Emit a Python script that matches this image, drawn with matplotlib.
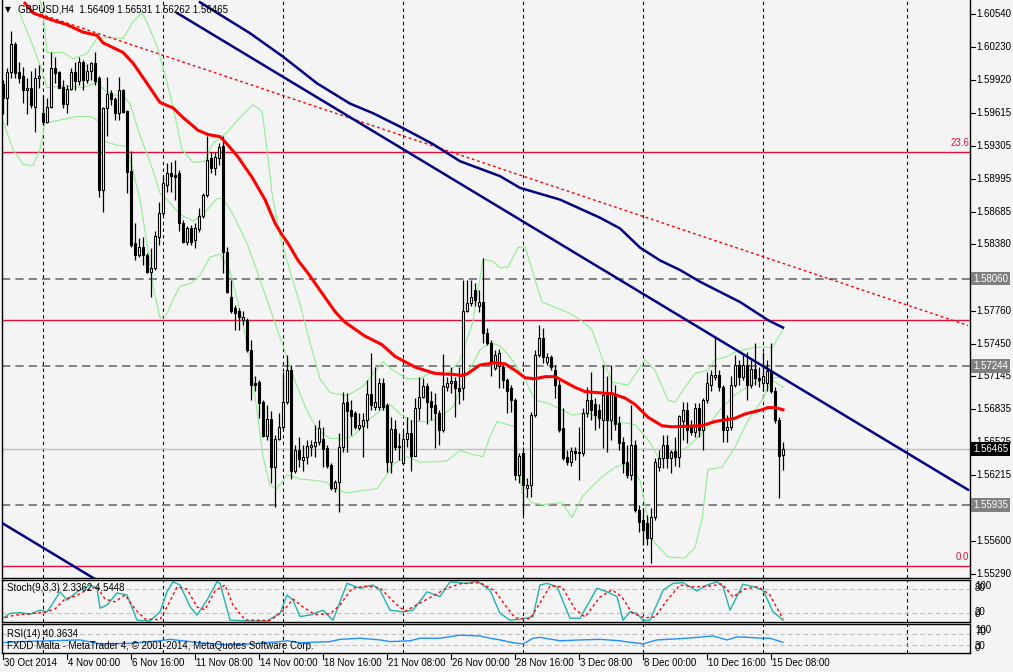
import matplotlib.pyplot as plt

# GBPUSD H4 candles, 30 Oct 2014 .. 15 Dec 2014 (one entry per bar)
opens = [1.5988, 1.5975, 1.6000, 1.6026, 1.6000, 1.5996, 1.5983, 1.5985, 1.5967, 1.5994,
         1.5961, 1.5953, 1.5967, 1.6003, 1.6000, 1.5986, 1.5970, 1.5984, 1.6000, 1.5991,
         1.6009, 1.5992, 1.6001, 1.6008, 1.5994, 1.5889, 1.5966, 1.5980, 1.5974, 1.5961,
         1.5983, 1.5963, 1.5907, 1.5839, 1.5828, 1.5836, 1.5828, 1.5812, 1.5816, 1.5845,
         1.5867, 1.5894, 1.5905, 1.5903, 1.5905, 1.5858, 1.5840, 1.5853, 1.5842, 1.5852,
         1.5865, 1.5884, 1.5919, 1.5910, 1.5919, 1.5930, 1.5831, 1.5789, 1.5778, 1.5776,
         1.5767, 1.5767, 1.5739, 1.5708, 1.5709, 1.5690, 1.5658, 1.5674, 1.5629, 1.5656,
         1.5667, 1.5690, 1.5720, 1.5626, 1.5645, 1.5636, 1.5639, 1.5648, 1.5649, 1.5653,
         1.5656, 1.5647, 1.5631, 1.5610, 1.5615, 1.5648, 1.5690, 1.5683, 1.5680, 1.5666,
         1.5668, 1.5673, 1.5698, 1.5686, 1.5686, 1.5708, 1.5687, 1.5634, 1.5665, 1.5649,
         1.5633, 1.5656, 1.5661, 1.5640, 1.5685, 1.5695, 1.5705, 1.5691, 1.5687, 1.5680,
         1.5664, 1.5704, 1.5708, 1.5710, 1.5703, 1.5703, 1.5776, 1.5783, 1.5795, 1.5780,
         1.5784, 1.5755, 1.5746, 1.5722, 1.5724, 1.5723, 1.5711, 1.5703, 1.5692, 1.5622,
         1.5642, 1.5610, 1.5612, 1.5678, 1.5734, 1.5750, 1.5728, 1.5732, 1.5720, 1.5706,
         1.5666, 1.5639, 1.5634, 1.5644, 1.5642, 1.5642, 1.5680, 1.5692, 1.5688, 1.5683,
         1.5673, 1.5697, 1.5673, 1.5697, 1.5671, 1.5653, 1.5634, 1.5622, 1.5650, 1.5589,
         1.5580, 1.5577, 1.5563, 1.5582, 1.5629, 1.5638, 1.5650, 1.5638, 1.5644, 1.5639,
         1.5672, 1.5683, 1.5667, 1.5662, 1.5685, 1.5664, 1.5692, 1.5706, 1.5714, 1.5716,
         1.5704, 1.5664, 1.5667, 1.5706, 1.5725, 1.5714, 1.5725, 1.5706, 1.5721, 1.5713,
         1.5708, 1.5708, 1.5719, 1.5701, 1.5673, 1.56409]
highs = [1.5992, 1.6003, 1.6038, 1.6028, 1.6009, 1.6004, 1.5994, 1.6001, 1.6003, 1.6006,
         1.5978, 1.5975, 1.6018, 1.6014, 1.6001, 1.5992, 1.5987, 1.6003, 1.6009, 1.6014,
         1.6011, 1.6007, 1.6009, 1.6018, 1.5996, 1.5967, 1.5995, 1.5983, 1.5976, 1.5995,
         1.5984, 1.5964, 1.5926, 1.5858, 1.5844, 1.5845, 1.5830, 1.5835, 1.5851, 1.5878,
         1.5903, 1.5914, 1.5915, 1.5917, 1.5908, 1.5861, 1.5855, 1.5856, 1.5858, 1.5872,
         1.5886, 1.5940, 1.5925, 1.5925, 1.5933, 1.5940, 1.5836, 1.5805, 1.5781, 1.5778,
         1.5776, 1.5769, 1.5748, 1.5715, 1.5711, 1.5692, 1.5687, 1.5682, 1.5659, 1.5680,
         1.5718, 1.5734, 1.5725, 1.5650, 1.5657, 1.5650, 1.5655, 1.5655, 1.5669, 1.5673,
         1.5667, 1.5650, 1.5633, 1.5617, 1.5661, 1.5700, 1.5699, 1.5692, 1.5682, 1.5680,
         1.5680, 1.5711, 1.5736, 1.5723, 1.5713, 1.5713, 1.5689, 1.5676, 1.5673, 1.5661,
         1.5664, 1.5676, 1.5673, 1.5694, 1.5714, 1.5713, 1.5708, 1.5701, 1.5699, 1.5683,
         1.5735, 1.5714, 1.5723, 1.5714, 1.5723, 1.5805, 1.5805, 1.5805, 1.5802, 1.5795,
         1.5825, 1.5760, 1.5748, 1.5739, 1.5740, 1.5725, 1.5713, 1.5706, 1.5694, 1.5642,
         1.5648, 1.5619, 1.5681, 1.5739, 1.5762, 1.5760, 1.5736, 1.5734, 1.5725, 1.5711,
         1.5685, 1.5645, 1.5648, 1.5648, 1.5667, 1.5685, 1.5704, 1.5718, 1.5694, 1.5688,
         1.5725, 1.5715, 1.5725, 1.5706, 1.5677, 1.5657, 1.5650, 1.5687, 1.5655, 1.5594,
         1.5591, 1.5584, 1.5591, 1.5638, 1.5645, 1.5659, 1.5659, 1.5645, 1.5657, 1.5678,
         1.5690, 1.5690, 1.5673, 1.5689, 1.5689, 1.5694, 1.5718, 1.5720, 1.5751, 1.5720,
         1.5706, 1.5678, 1.5715, 1.5734, 1.5730, 1.5736, 1.5737, 1.5730, 1.5746, 1.5723,
         1.5737, 1.5730, 1.5746, 1.5704, 1.5676, 1.56531]
lows = [1.5960, 1.5950, 1.5994, 1.5994, 1.5989, 1.5971, 1.5960, 1.5966, 1.5943, 1.5985,
        1.5950, 1.5952, 1.5966, 1.5989, 1.5985, 1.5966, 1.5961, 1.5983, 1.5983, 1.5987,
        1.5983, 1.5989, 1.5992, 1.5987, 1.5882, 1.5868, 1.5940, 1.5969, 1.5955, 1.5955,
        1.5961, 1.5886, 1.5836, 1.5823, 1.5826, 1.5819, 1.5811, 1.5789, 1.5814, 1.5837,
        1.5865, 1.5887, 1.5887, 1.5880, 1.5851, 1.5839, 1.5837, 1.5837, 1.5835, 1.5850,
        1.5863, 1.5882, 1.5905, 1.5903, 1.5912, 1.5811, 1.5792, 1.5774, 1.5758, 1.5758,
        1.5762, 1.5737, 1.5692, 1.5701, 1.5675, 1.5657, 1.5655, 1.5614, 1.5592, 1.5655,
        1.5664, 1.5688, 1.5618, 1.5624, 1.5629, 1.5626, 1.5632, 1.5640, 1.5639, 1.5650,
        1.5629, 1.5628, 1.5608, 1.5606, 1.5587, 1.5643, 1.5643, 1.5659, 1.5665, 1.5664,
        1.5639, 1.5666, 1.5683, 1.5683, 1.5683, 1.5683, 1.5625, 1.5624, 1.5645, 1.5636,
        1.5631, 1.5648, 1.5626, 1.5640, 1.5673, 1.5694, 1.5670, 1.5673, 1.5647, 1.5650,
        1.5662, 1.5701, 1.5699, 1.5676, 1.5688, 1.5692, 1.5775, 1.5780, 1.5780, 1.5775,
        1.5746, 1.5744, 1.5715, 1.5720, 1.5703, 1.5703, 1.5680, 1.5681, 1.5617, 1.5614,
        1.5584, 1.5601, 1.5601, 1.5676, 1.5732, 1.5727, 1.5725, 1.5720, 1.5694, 1.5662,
        1.5636, 1.5631, 1.5630, 1.5636, 1.5617, 1.5640, 1.5676, 1.5673, 1.5664, 1.5666,
        1.5647, 1.5643, 1.5655, 1.5664, 1.5645, 1.5624, 1.5619, 1.5617, 1.5587, 1.5568,
        1.5556, 1.5556, 1.5539, 1.5580, 1.5626, 1.5628, 1.5628, 1.5624, 1.5630, 1.5629,
        1.5655, 1.5652, 1.5659, 1.5657, 1.5657, 1.5645, 1.5689, 1.5701, 1.5711, 1.5701,
        1.5653, 1.5653, 1.5664, 1.5704, 1.5706, 1.5711, 1.5692, 1.5703, 1.5706, 1.5704,
        1.5701, 1.5701, 1.5699, 1.5671, 1.5600, 1.56262]
closes = [1.5975, 1.6000, 1.6026, 1.5999, 1.5994, 1.5983, 1.5985, 1.5969, 1.5994, 1.5996,
          1.5953, 1.5967, 1.6003, 1.5999, 1.5985, 1.5970, 1.5984, 1.6000, 1.5991, 1.6009,
          1.5992, 1.6001, 1.6008, 1.5991, 1.5889, 1.5966, 1.5979, 1.5974, 1.5961, 1.5983,
          1.5962, 1.5906, 1.5837, 1.5828, 1.5836, 1.5828, 1.5812, 1.5816, 1.5846, 1.5867,
          1.5896, 1.5905, 1.5902, 1.5901, 1.5858, 1.5840, 1.5853, 1.5840, 1.5853, 1.5865,
          1.5884, 1.5917, 1.5910, 1.5920, 1.5929, 1.5831, 1.5793, 1.5776, 1.5774, 1.5770,
          1.5770, 1.5739, 1.5706, 1.5706, 1.5689, 1.5658, 1.5674, 1.5629, 1.5656, 1.5667,
          1.5690, 1.5720, 1.5626, 1.5645, 1.5637, 1.5639, 1.5649, 1.5650, 1.5653, 1.5666,
          1.5646, 1.5630, 1.5610, 1.5615, 1.5648, 1.5689, 1.5682, 1.5677, 1.5667, 1.5669,
          1.5673, 1.5698, 1.5687, 1.5690, 1.5708, 1.5686, 1.5634, 1.5665, 1.5648, 1.5648,
          1.5656, 1.5661, 1.5640, 1.5685, 1.5695, 1.5705, 1.5690, 1.5686, 1.5680, 1.5664,
          1.5705, 1.5708, 1.5710, 1.5703, 1.5701, 1.5776, 1.5783, 1.5789, 1.5786, 1.5784,
          1.5755, 1.5746, 1.5727, 1.5734, 1.5736, 1.5711, 1.5701, 1.5692, 1.5622, 1.5640,
          1.5612, 1.5612, 1.5678, 1.5734, 1.5750, 1.5732, 1.5732, 1.5723, 1.5706, 1.5664,
          1.5638, 1.5634, 1.5644, 1.5642, 1.5643, 1.5680, 1.5692, 1.5683, 1.5678, 1.5675,
          1.5697, 1.5673, 1.5700, 1.5670, 1.5652, 1.5633, 1.5622, 1.5650, 1.5589, 1.5578,
          1.5570, 1.5563, 1.5582, 1.5634, 1.5638, 1.5650, 1.5638, 1.5643, 1.5639, 1.5677,
          1.5683, 1.5664, 1.5662, 1.5685, 1.5664, 1.5692, 1.5708, 1.5716, 1.5716, 1.5704,
          1.5664, 1.5667, 1.5706, 1.5725, 1.5714, 1.5725, 1.5706, 1.5721, 1.5713, 1.5711,
          1.5715, 1.5719, 1.5701, 1.5673, 1.5640, 1.56465]

# moving averages read at bar positions
ma_red_bar = [5.5, 7.5, 12.5, 16, 20, 23.5, 25, 30, 32.5, 36, 39.25, 42.5, 45, 48.75, 51.25,
              54.25, 56.25, 58.75, 62.25, 65.5, 68, 69.75, 71.25, 73.75, 76.25, 79.25, 83,
              85.5, 90.5, 94.75, 98, 100.5, 103, 108, 113, 114.75, 116.25, 119.25, 123,
              125.5, 128, 130.5, 133, 135.5, 138, 140.5, 143, 145.5, 148.75, 152.25, 155.5,
              158, 161.25, 164.75, 167.25, 174.75, 178, 183, 185.5, 189.75, 191.25, 193, 195]
ma_red = [1.6064, 1.6055, 1.6048, 1.6044, 1.6037, 1.6034, 1.6027, 1.6018, 1.6008, 1.5989,
          1.5971, 1.5966, 1.5957, 1.5945, 1.5941, 1.5939, 1.5931, 1.5920, 1.5901, 1.5880,
          1.5858, 1.5847, 1.5839, 1.5823, 1.5811, 1.5795, 1.5775, 1.5765, 1.5752, 1.5744,
          1.5733, 1.5728, 1.5723, 1.5717, 1.5716, 1.5715, 1.5717, 1.5725, 1.5727, 1.5726,
          1.5720, 1.5713, 1.5712, 1.5714, 1.5714, 1.5709, 1.5704, 1.5700, 1.5699, 1.5698,
          1.5694, 1.5688, 1.5676, 1.5668, 1.5667, 1.5668, 1.5672, 1.5675, 1.5679, 1.5683,
          1.5685, 1.5685, 1.5683]
ma_blue_bar = [49.25, 61.75, 70, 78.5, 86.75, 92.5, 100, 107.5, 114.25, 124.25, 129.25, 139.25,
               149.25, 154.25, 159.25, 164.25, 169.25, 174.25, 184.25, 191.25, 195]
ma_blue = [1.6065, 1.6036, 1.6014, 1.5989, 1.5970, 1.5961, 1.5947, 1.5932, 1.5916, 1.5902,
           1.5891, 1.5880, 1.5863, 1.5853, 1.5835, 1.5823, 1.5814, 1.5803, 1.5784, 1.5767,
           1.5760]

# Bollinger bands (20) read at bar positions
bb_up_bar = [8.75, 10, 11, 15, 17.5, 21, 23.5, 26.75, 30, 32.5, 34.75, 36.25, 38.5, 41, 42.5,
             44.75, 47.5, 50.5, 52.5, 56, 59.25, 62.5, 64.75, 66, 67.25, 69.25, 71.75, 74.25,
             76.75, 79.25, 81.75, 86, 90, 95, 97.5, 101, 104.25, 107.5, 111, 114.25, 117.5,
             120, 122.5, 124.25, 126.25, 128.75, 130.5, 133, 134.75, 138, 141.25, 143.75,
             147.25, 149.75, 152.25, 156.25, 160.5, 163, 166.25, 168, 170.5, 173, 176.25, 178,
             180.5, 183, 187.25, 189.75, 192.25, 195]
bb_up = [1.6077, 1.6053, 1.6018, 1.6018, 1.6012, 1.6017, 1.6031, 1.6032, 1.6031, 1.6047,
         1.6055, 1.6044, 1.6024, 1.5990, 1.5967, 1.5927, 1.5915, 1.5916, 1.5933, 1.5943,
         1.5957, 1.5969, 1.5963, 1.5927, 1.5886, 1.5846, 1.5813, 1.5782, 1.5746, 1.5712,
         1.5699, 1.5696, 1.5705, 1.5728, 1.5720, 1.5712, 1.5712, 1.5719, 1.5716, 1.5729,
         1.5766, 1.5824, 1.5822, 1.5816, 1.5817, 1.5835, 1.5836, 1.5805, 1.5784, 1.5779,
         1.5774, 1.5769, 1.5758, 1.5732, 1.5709, 1.5706, 1.5730, 1.5720, 1.5692, 1.5690,
         1.5704, 1.5717, 1.5720, 1.5730, 1.5732, 1.5737, 1.5741, 1.5742, 1.5741, 1.5758]
bb_mid_bar = [4.25, 7.5, 9.75, 11, 16, 20, 23.5, 25, 27.5, 30, 31.75, 34.25, 36, 37.5, 39.25,
              41, 44.25, 47.5, 50, 53.5, 55, 57.5, 61, 63.5, 66, 68.5, 71, 73.5, 76, 78.5,
              81.75, 85, 87.5, 91, 94.25, 96.75, 99.25, 102.5, 106, 109.25, 112.5, 116,
              119.25, 121.75, 124.25, 127.25, 130.5, 133, 136.25, 139.75, 142.25, 145.5,
              148.75, 151.25, 154.75, 158, 161.25, 164.25, 168, 171.75, 175.5, 179.25, 183,
              186.75, 190.5, 195]
bb_mid = [1.6054, 1.6024, 1.6001, 1.5985, 1.5987, 1.5985, 1.5990, 1.5984, 1.5978, 1.5978,
          1.5970, 1.5940, 1.5923, 1.5907, 1.5886, 1.5880, 1.5866, 1.5860, 1.5866, 1.5881,
          1.5881, 1.5866, 1.5839, 1.5813, 1.5786, 1.5759, 1.5732, 1.5705, 1.5682, 1.5665,
          1.5656, 1.5656, 1.5658, 1.5672, 1.5682, 1.5688, 1.5679, 1.5672, 1.5672, 1.5675,
          1.5686, 1.5716, 1.5739, 1.5746, 1.5743, 1.5730, 1.5711, 1.5692, 1.5689, 1.5683,
          1.5678, 1.5680, 1.5676, 1.5672, 1.5671, 1.5669, 1.5655, 1.5636, 1.5641, 1.5650,
          1.5664, 1.5683, 1.5697, 1.5706, 1.5713, 1.5713]
bb_low_bar = [0, 2.5, 5, 7.5, 9.25, 10.5, 13.5, 18.5, 21.75, 23.75, 25, 28.5, 31, 32.5, 34.25,
              36, 37.5, 39.25, 41, 42.5, 44.25, 46.75, 49.25, 51.75, 54.25, 56.75, 59.25,
              61.75, 63.5, 65, 66.75, 68.5, 71, 74.25, 77.5, 81, 82.5, 86, 89.25, 93.5, 96,
              97.5, 101, 104.25, 107.5, 111, 114.25, 117.5, 120, 121.75, 123.5, 128, 129.75,
              132.25, 134.75, 139.75, 142.25, 144.75, 147.25, 149.75, 153, 156.25, 159.25,
              162.25, 166.25, 170.5, 173, 174.75, 176.25, 179.75, 183, 186.25, 189.75, 192.25,
              195]
bb_low = [1.5954, 1.5927, 1.5913, 1.5912, 1.5927, 1.5952, 1.5954, 1.5958, 1.5958, 1.5954,
          1.5935, 1.5931, 1.5930, 1.5907, 1.5880, 1.5839, 1.5799, 1.5769, 1.5773, 1.5786,
          1.5799, 1.5801, 1.5809, 1.5826, 1.5829, 1.5813, 1.5776, 1.5732, 1.5682, 1.5639,
          1.5612, 1.5609, 1.5622, 1.5618, 1.5617, 1.5615, 1.5609, 1.5605, 1.5607, 1.5609,
          1.5622, 1.5632, 1.5639, 1.5634, 1.5634, 1.5635, 1.5645, 1.5641, 1.5639, 1.5658,
          1.5672, 1.5667, 1.5605, 1.5596, 1.5594, 1.5596, 1.5582, 1.5601, 1.5611, 1.5620,
          1.5629, 1.5633, 1.5617, 1.5561, 1.5545, 1.5544, 1.5554, 1.5580, 1.5627, 1.5629,
          1.5648, 1.5673, 1.5692, 1.5711, 1.5704]

# drawn objects: trend lines (bar, price) and horizontal levels
trend_blue = ([43.5, 241.25], [1.6055, 1.5608])
trend_blue_low = ([-0.75, 24], [1.5578, 1.5522])
trend_red_dot = ([9.25, 241.25], [1.6054, 1.5762])
red_levels = [1.59246, 1.57671, 1.55365]
gray_levels = [1.58060, 1.57244, 1.55935]
last_price = 1.56465

# Stochastic(9,3,3)
stoch_bar = [-0.75, 1.75, 4.25, 6.75, 9.25, 11, 12.5, 14.25, 16, 18.5, 21.75, 23.5, 24.25, 26,
             28.5, 31, 33.5, 36.75, 39.25, 41, 42.5, 44.25, 46.75, 48.5, 51, 53.5, 54.25,
             56.75, 61.75, 66, 69.25, 71, 72.5, 74.25, 76.75, 80, 82.5, 86, 89.25, 92.5,
             94.25, 96.75, 100, 102.5, 106, 109.25, 111.75, 116, 118.5, 121.75, 124.25,
             126.75, 130, 132.5, 134.25, 136, 138.5, 141.75, 144.25, 148.5, 151, 153.5, 155,
             156.75, 158.5, 160, 161.75, 165, 167.5, 170, 173.5, 176, 178.5, 180, 181.75,
             185, 187.5, 190, 192.5, 195]
stoch_main = [2, 19, 21, 17, 27, 23, 45, 73, 52, 73, 90, 82, 32, 40, 70, 65, 2, 0, 23, 73,
              98, 90, 36, 15, 52, 98, 94, 2, 0, 0, 19, 65, 52, 11, 15, 27, 2, 94, 82, 90,
              77, 27, 23, 27, 73, 61, 98, 94, 100, 77, 19, 2, 5, 11, 90, 94, 86, 7, 7, 82,
              73, 61, 2, 23, 19, 1, 2, 77, 94, 96, 75, 90, 98, 86, 27, 92, 86, 77, 23, 2.3]
signal_bar = [-0.75, 3, 6.75, 10.5, 13, 15.5, 18, 20.5, 23.5, 25.5, 28, 30.5, 33, 35.5, 39.25,
              41.25, 43.5, 46, 48.5, 50.5, 53, 55.5, 57.5, 60.5, 66.75, 70.5, 72.5, 75, 78,
              81.75, 84.25, 87.25, 90.5, 94.25, 98, 100.5, 104.25, 108, 110.5, 114.25, 119.25,
              123, 125.5, 128, 131.75, 134.25, 136.75, 139.75, 143, 145.5, 149.25, 152.25,
              154.75, 157.25, 160.5, 163, 166.25, 169.25, 173, 177.25, 179.75, 182.5, 185.5,
              188.75, 191.75, 195]
stoch_signal = [5, 15, 18, 22, 30, 55, 62, 75, 86, 55, 48, 65, 30, 5, 3, 40, 85, 80, 35, 28,
                75, 90, 40, 3, 1, 30, 55, 35, 16, 18, 40, 82, 87, 83, 45, 24, 45, 65, 80, 93,
                96, 75, 40, 8, 5, 45, 88, 85, 30, 10, 60, 78, 60, 20, 8, 10, 55, 90, 85, 88,
                93, 60, 80, 86, 65, 4.5]

# RSI(14)
rsi_bar = [-0.75, 4.25, 11.75, 19.25, 24.25, 31.75, 39.25, 41.75, 49.25, 56.75, 61.75, 69.25,
           71, 74.25, 81.75, 84.25, 89.25, 94.25, 96.75, 101.75, 104.25, 109.25, 114.25,
           119.25, 121.75, 124.25, 127.5, 130, 132.5, 134.25, 139.25, 144.25, 149.25, 154.25,
           155.5, 160, 163.5, 171, 177.5, 181, 183.5, 190, 191.75, 195]
rsi = [39, 43, 46, 49, 35, 37, 46, 51, 39, 31, 35, 43, 46, 39, 43, 51, 55, 49, 43, 46, 55,
       55, 66, 63, 55, 49, 39, 35, 55, 58, 46, 49, 51, 46, 43, 35, 49, 55, 63, 49, 60, 55,
       55, 40.36]

price_ticks = [1.60540, 1.60230, 1.59920, 1.59615, 1.59305, 1.58995, 1.58685, 1.58380,
               1.57760, 1.57450, 1.57145, 1.56835, 1.56525, 1.56215, 1.55600, 1.55290]
date_labels = ['30 Oct 2014', '4 Nov 00:00', '6 Nov 16:00', '11 Nov 08:00', '14 Nov 00:00',
               '18 Nov 16:00', '21 Nov 08:00', '26 Nov 00:00', '28 Nov 16:00', '3 Dec 08:00',
               '8 Dec 00:00', '10 Dec 16:00', '15 Dec 08:00']
grid_bars = [10, 40, 70, 100, 130, 160, 190, 226]

W, H = 1013, 672
BG = '#F4F4F4'
plt.rcParams['font.family'] = ['Liberation Sans', 'DejaVu Sans']
fig = plt.figure(figsize=(W / 100, H / 100), dpi=100, facecolor=BG)


def box(x0, y0, x1, y1):
    return [x0 / W, 1 - y1 / H, (x1 - x0) / W, (y1 - y0) / H]


def ptext(x, y, s, **kw):
    kw.setdefault('fontsize', 7)
    fig.text(x / W, 1 - y / H, s, va='center', ha='left', **kw)


ax = fig.add_axes(box(2, 0, 970, 578))
ax_st = fig.add_axes(box(2, 580, 970, 622))
ax_rsi = fig.add_axes(box(2, 624, 970, 653))
x_lo, x_hi = -0.25, 241.75
for a in (ax, ax_st, ax_rsi):
    a.set_facecolor(BG)
    a.set_xlim(x_lo, x_hi)
    a.set_xticks([])
    a.set_yticks([])
    for s in a.spines.values():
        s.set_color('black')
        s.set_linewidth(1)
    for gb in grid_bars:
        a.axvline(gb, color='black', lw=0.8, ls=(0, (3, 3)), zorder=1)
ax.spines['top'].set_visible(False)
ax.set_ylim(1.552525, 1.6067125)

# levels
for lv in gray_levels:
    ax.axhline(lv, color='#6E6E6E', lw=1.2, ls=(0, (5, 3)), zorder=1)
ax.axhline(last_price, color='#BEBEBE', lw=1, zorder=1)
for lv in red_levels:
    ax.axhline(lv, color='#E0103C', lw=1, zorder=2)
ax.text(0.999, red_levels[0] + 0.0004, '23.6', color='#E0103C', fontsize=7, ha='right',
        va='bottom', transform=ax.get_yaxis_transform())
ax.text(0.999, red_levels[2] + 0.0004, '0.0', color='#E0103C', fontsize=7, ha='right',
        va='bottom', transform=ax.get_yaxis_transform())

# bollinger bands
for bx, by in ((bb_up_bar, bb_up), (bb_mid_bar, bb_mid), (bb_low_bar, bb_low)):
    ax.plot(bx, by, color='#90EE90', lw=0.8, zorder=2)

# lines
ax.plot(*trend_red_dot, color='red', lw=1, ls=(0, (2, 2)), zorder=3)
ax.plot(*trend_blue, color='#000080', lw=1.8, zorder=3)
ax.plot(*trend_blue_low, color='#000080', lw=1.8, zorder=3)
ax.plot(ma_blue_bar, ma_blue, color='#000080', lw=1.8, zorder=3)
ax.plot(ma_red_bar, ma_red, color='red', lw=2.2, zorder=5)

# candles
bars = range(len(closes))
ax.vlines(bars, lows, highs, color='black', lw=0.9, zorder=4)
for i in bars:
    o, c = opens[i], closes[i]
    ax.bar(i, max(abs(c - o), 0.00002), bottom=min(o, c), width=0.62,
           color='white' if c >= o else 'black', edgecolor='black', lw=0.8, zorder=4)

# right price scale
yt = ax.get_yaxis_transform()
for p in price_ticks:
    ax.plot([1.0, 1.005], [p, p], color='black', lw=0.8, transform=yt, clip_on=False)
    ax.text(1.0065, p, f'{p:.5f}', fontsize=7, va='center', ha='left', transform=yt)
for lv in gray_levels:
    ax.text(1.003, lv, f'{lv:.5f}', fontsize=7, va='center', ha='left', color='white',
            transform=yt, bbox=dict(boxstyle='square,pad=0.2', fc='#808080', ec='none'))
ax.text(1.003, last_price, f'{last_price:.5f}', fontsize=7, va='center', ha='left',
        color='white', transform=yt, bbox=dict(boxstyle='square,pad=0.2', fc='black', ec='none'))

# stochastic
ax_st.set_ylim(-2.5, 102.5)
for lv in (80, 20):
    ax_st.axhline(lv, color='#C0C0C0', lw=0.8, ls=(0, (4, 3)))
ax_st.plot(stoch_bar, stoch_main, color='#20B2AA', lw=1)
ax_st.plot(signal_bar, stoch_signal, color='red', lw=1, ls=(0, (2, 2)))

# rsi
ax_rsi.set_ylim(2.7, 105.4)
for lv in (70, 30):
    ax_rsi.axhline(lv, color='#C0C0C0', lw=0.8, ls=(0, (4, 3)))
ax_rsi.plot(rsi_bar, rsi, color='#1E90FF', lw=1)

# indicator scales: the terminal stacks these labels on top of each other
for lab, yp in (('100', 586), ('80', 588), ('20', 612), ('0', 614),
                ('100', 630), ('70', 632), ('30', 646), ('0', 648)):
    ptext(975, yp, lab)

ptext(5, 10, '\u25bc', family='DejaVu Sans', fontsize=5.5)
ptext(18, 10, 'GBPUSD,H4  1.56409 1.56531 1.56262 1.56465')
ptext(7, 588, 'Stoch(9,3,3) 2.3362 4.5448')
ptext(7, 634, 'RSI(14) 40.3634')
ptext(7, 646, 'FXDD Malta - MetaTrader 4, \u00a9 2001-2014, MetaQuotes Software Corp.')

# time axis labels, one every 16 bars
for k, lab in enumerate(date_labels):
    bx = 16 * k
    xp = 2 + (bx - x_lo) / (x_hi - x_lo) * 968
    fig.add_artist(plt.Line2D([xp / W, xp / W], [1 - 654 / H, 1 - 659 / H], color='black', lw=0.8))
    ptext(xp + 1, 663, lab)

fig.savefig('out.png', dpi=100, facecolor=BG)
